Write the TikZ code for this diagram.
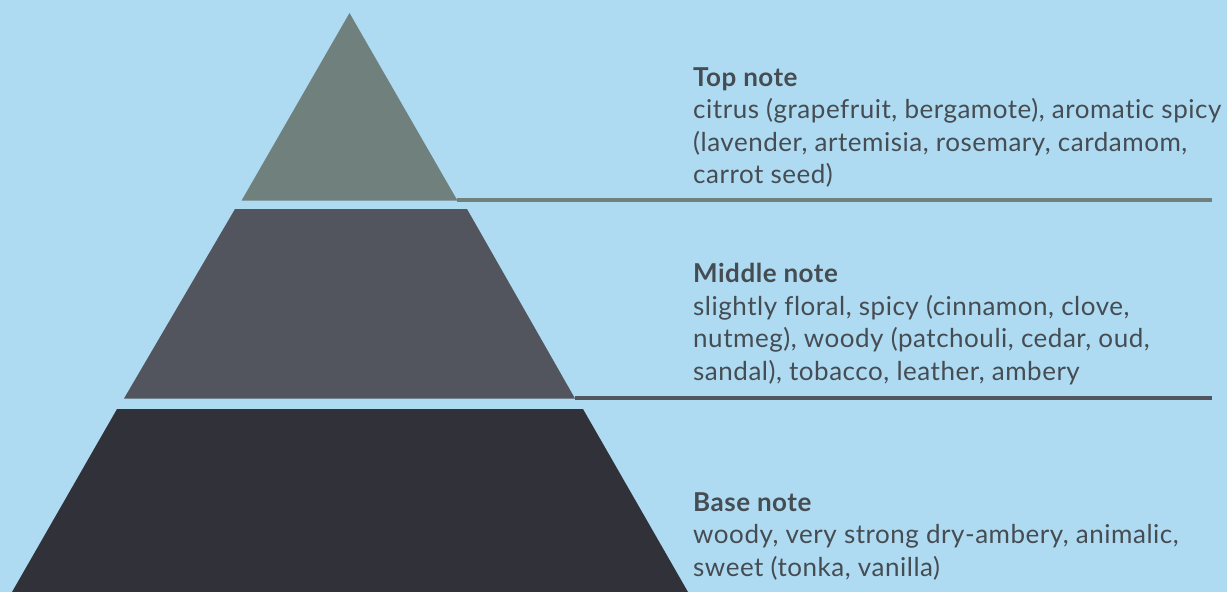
\documentclass[tikz,border=0pt]{standalone}
\usepackage{fontspec}
\setmainfont{Lato}[Ligatures=NoCommon, LetterSpace=2]
\usetikzlibrary{positioning}
\definecolor{sky}{HTML}{AEDBF2}
\definecolor{toplayer}{HTML}{6F807D}
\definecolor{midlayer}{HTML}{52555E}
\definecolor{baselayer}{HTML}{31313A}
\definecolor{notetext}{HTML}{454C52}
\tikzset{
  note/.style={font=\fontsize{26}{32.5}\selectfont, text=notetext, align=left, anchor=base west, inner sep=0pt},
  divider/.style={line width=4pt}
}

\begin{document}
\begin{tikzpicture}[x=1pt, y=-1pt]
\fill[sky] (0,0) rectangle (1227,592);
\useasboundingbox (0,0) rectangle (1227,592);
% pyramid layers
\coordinate (apex) at (349.5,13);
\coordinate (tl) at (241.6,200.5); \coordinate (tr) at (457.4,200.5);
\coordinate (ml1) at (235,209); \coordinate (mr1) at (467,209);
\coordinate (ml2) at (124,398.5); \coordinate (mr2) at (575,398.5);
\coordinate (bl1) at (117,409); \coordinate (br1) at (583,409);
\coordinate (bl2) at (12,592); \coordinate (br2) at (688,592);
\fill[toplayer] (apex) -- (tr) -- (tl) -- cycle;
\fill[midlayer] (ml1) -- (mr1) -- (mr2) -- (ml2) -- cycle;
\fill[baselayer] (bl1) -- (br1) -- (br2) -- (bl2) -- cycle;
% notes (anchored at the baseline of their last line)
\node[note] (topnote) at (693,183.5) {\textbf{Top note}\\citrus (grapefruit, bergamote), aromatic spicy\\(lavender, artemisia, rosemary, cardamom,\\carrot seed)};
\node[note] (midnote) at (693,380) {\textbf{Middle note}\\slightly floral, spicy (cinnamon, clove,\\nutmeg), woody (patchouli, cedar, oud,\\sandal), tobacco, leather, ambery};
\node[note] (basenote) at (693,576) {\textbf{Base note}\\woody, very strong dry-ambery, animalic,\\sweet (tonka, vanilla)};
\coordinate (topend) at (1212,200);
\coordinate (midend) at (1212,398);
\draw[divider, toplayer] (tr |- topend) -- (topend);
\draw[divider, midlayer] (mr2 |- midend) -- (midend);
\end{tikzpicture}
\end{document}
